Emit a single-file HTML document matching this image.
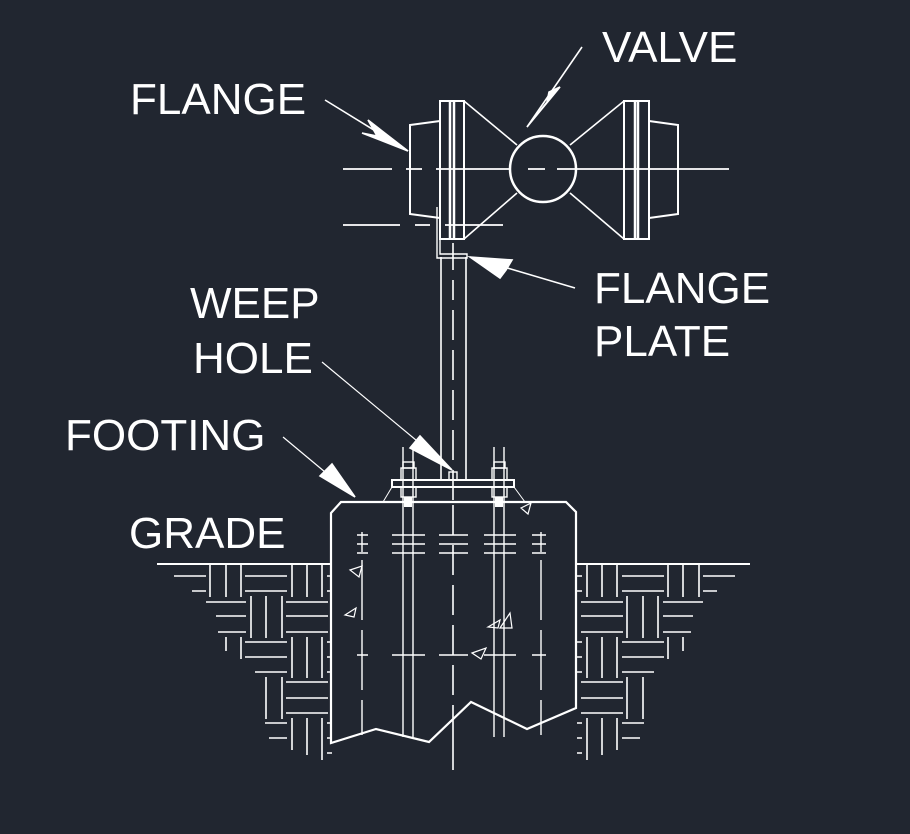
<!DOCTYPE html>
<html><head><meta charset="utf-8"><style>
html,body{margin:0;padding:0;background:#212630;}
svg{display:block}
text{font-family:"Liberation Sans",sans-serif;font-size:44px;fill:#fff}
</style></head><body>
<svg width="910" height="834" viewBox="0 0 910 834" xmlns="http://www.w3.org/2000/svg">
<rect width="910" height="834" fill="#212630"/>
<defs>
<g id="hatch" stroke="#fff" stroke-width="1.6" fill="none">
<path d="M174 576H206M192 591H206M210 565V597M226 565V597M241 565V597M245 576H287M245 591H287M292 565V597M307 565V597M322 565V597M327 576H332M327 591H332"/>
<path d="M206 602H246M216 616H246M218 632H246M251 596V638M266 596V638M282 596V638M286 602H328M286 616H328M286 632H328"/>
<path d="M226 637V651M241 637V659M245 642H287M245 657H287M255 672H287M292 637V678M307 637V678M322 637V678M327 642H332M327 657H332M327 672H332"/>
<path d="M266 677V719M282 677V719M286 682H328M286 698H328M286 713H328"/>
<path d="M265 723H287M269 738H287M292 718V750M307 718V755M322 718V760M327 723H332M327 738H332M327 753H332"/>
</g>
</defs>
<use href="#hatch"/>
<use href="#hatch" transform="translate(909,0) scale(-1,1)"/>
<path d="M157 564H332M577 564H750" stroke="#fff" stroke-width="2"/>

<g stroke="#fff" fill="none" stroke-width="2">
<path d="M331 513L341 502H566L576 512V708L527 729L471 702L429 742L376 729L331 743Z" stroke-width="2.2"/>
<rect x="440" y="101" width="24" height="138"/>
<path d="M450 101V239M454 101V239" stroke-width="2.5"/>
<path d="M440 121L410 125V214L440 218"/>
<path d="M464 101L517 145M464 239L517 193M570 145L624 101M570 193L624 239" stroke-width="1.6"/>
<circle cx="543" cy="169" r="33" stroke-width="2.5"/>
<rect x="624" y="101" width="25" height="138"/>
<path d="M635 101V239M638 101V239" stroke-width="2.5"/>
<path d="M649 121L678 125V214L649 218"/>
<path d="M343 169H392M406 169H422M436 169H509M528 169H545M557 169H729" stroke-width="1.8"/>
<path d="M343 225H400M415 225H430M445 225H503" stroke-width="1.8"/>
<path d="M437 207V258H467V254H440V207" stroke-width="1.4"/>
<path d="M441 257V480M466 257V480" stroke-width="1.6"/>
<path d="M453 243V270M453 280V300M453 310V340M453 350V380M453 390V420M453 430V460M453 470V500M453 505V535M453 545V575M453 585V615M453 625V655M453 665V695M453 705V770" stroke-width="1.6"/>
<rect x="392" y="480" width="122" height="7"/>
<rect x="449" y="472" width="8" height="8" stroke-width="1.4"/>
<path d="M392 487L383 502M514 487L525 502" stroke-width="1"/>
<path d="M403 447V737M413 447V737M494 447V737M504 447V737" stroke-width="1.4"/>
<rect x="401" y="468" width="15" height="12" stroke-width="1.4"/>
<rect x="403" y="462" width="11" height="6" stroke-width="1.4"/>
<rect x="401" y="487" width="15" height="10" stroke-width="1.4"/>
<rect x="492" y="468" width="15" height="12" stroke-width="1.4"/>
<rect x="494" y="462" width="11" height="6" stroke-width="1.4"/>
<rect x="492" y="487" width="15" height="10" stroke-width="1.4"/>
<path d="M362 532V552M362 560V620M362 630V690M362 700V735M541 532V552M541 560V620M541 630V690M541 700V735" stroke-width="1.4"/>
<path d="M357 535H368M357 544H368M357 553H368M392 535H425M392 544H425M392 553H425M439 535H468M439 544H468M439 553H468M484 535H516M484 544H516M484 553H516M532 535H546M532 544H546M532 553H546" stroke-width="1.4"/>
<path d="M357 655H368M392 655H425M439 655H468M484 655H516M532 655H546" stroke-width="1.4"/>
<path d="M350 570L362 566L359 577ZM345 615L356 608L354 617ZM488 627L500 620L498 628ZM500 628L510 613L512 628ZM472 653L486 648L481 659ZM521 508L531 503L528 514Z" stroke-width="1.2"/>
</g>
<rect x="404" y="497" width="8" height="10" fill="#fff"/>
<rect x="495" y="497" width="8" height="10" fill="#fff"/>

<g stroke="#fff" stroke-width="1.6" fill="#fff">
<path d="M325 100L408 151" fill="none"/>
<path d="M408 151L368 120L377 136L362 133Z"/>
<path d="M582 47L527 127" fill="none"/>
<path d="M527 127L560 87L549 92L547 102Z"/>
<path d="M575 288L470 257" fill="none"/>
<path d="M470 257L512 260L506 270L500 278Z"/>
<path d="M322 362L452 470" fill="none" stroke-width="1.2"/>
<path d="M452 470L420 436L410 448Z"/>
<path d="M283 437L355 497" fill="none" stroke-width="1.2"/>
<path d="M355 497L332 464L320 476Z"/>
</g>

<text x="130" y="114">FLANGE</text>
<text x="602" y="62">VALVE</text>
<text x="594" y="303">FLANGE</text>
<text x="594" y="356">PLATE</text>
<text x="190" y="318">WEEP</text>
<text x="193" y="373">HOLE</text>
<text x="65" y="450">FOOTING</text>
<text x="129" y="548">GRADE</text>
</svg>
</body></html>
